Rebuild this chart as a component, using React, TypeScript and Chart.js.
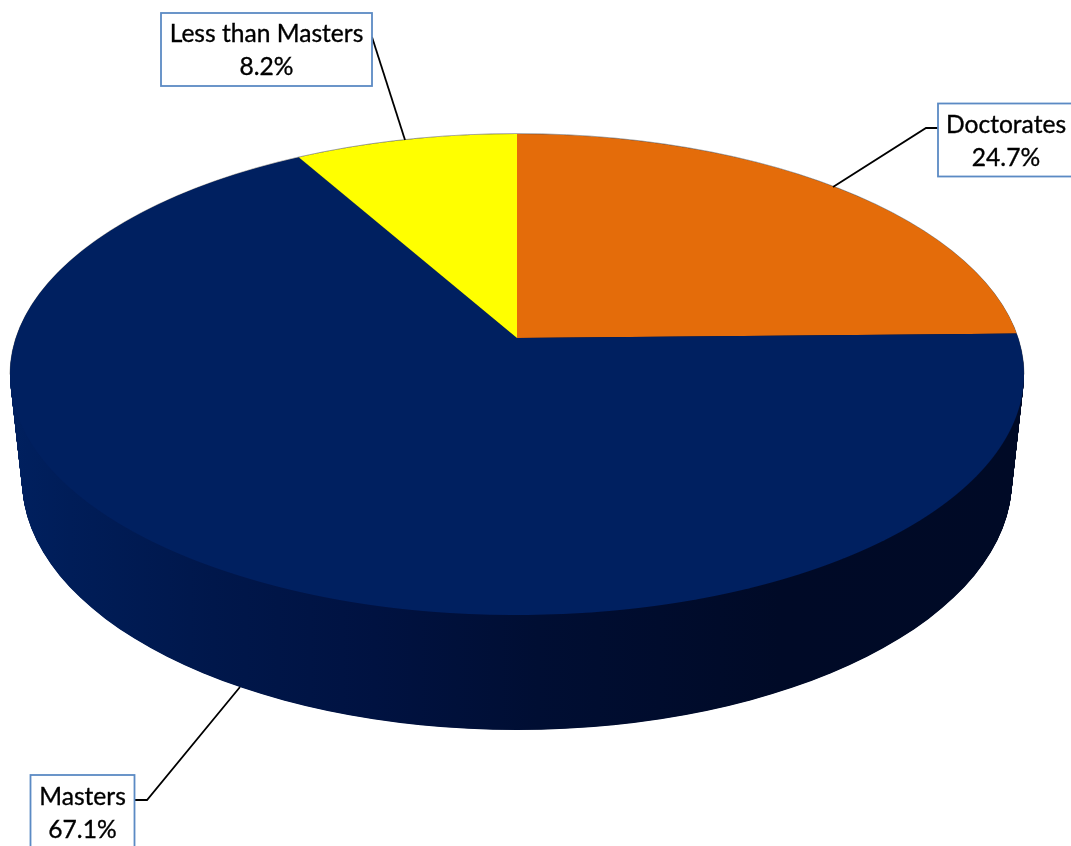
import React, { useEffect, useRef } from "react";
import { Chart, registerables } from "chart.js";

Chart.register(...registerables);

const categories = ["Doctorates", "Masters", "Less than Masters"];
const shares = [24.7, 67.1, 8.2];
const sliceColors = ["#e46c0a", "#002060", "#ffff00"];

const W = 1071;
const H = 846;

// projective tilt of the top face (disc coordinates -> screen)
const apexX = 517;
const apexY = 338;
const tiltK = -0.1518;
const tiltA = 501.1;
const tiltB = 234.96;

const topRim = { x: 517, y: 374.5, rx: 507, ry: 240.5 };
const baseRim = { x: 517, y: 480, rx: 495, ry: 250 };
const sideStops: [number, string][] = [
  [0.0, "#00205f"],
  [0.06, "#001d58"],
  [0.2, "#00174b"],
  [0.36, "#001241"],
  [0.52, "#000e33"],
  [0.76, "#000a27"],
  [1.0, "#000a26"],
];

const boxes = [
  { left: 938, top: 103.5, right: 1076, bottom: 176.5, cx: 1006, b1: 133, b2: 166, leader: [[938, 128], [926, 128], [833, 187]] },
  { left: 30.5, top: 775, right: 134.5, bottom: 860, cx: 82.5, b1: 805, b2: 838, leader: [[135, 800], [147, 800], [240, 687]] },
  { left: 161, top: 13, right: 372, bottom: 86, cx: 266.5, b1: 42, b2: 75, leader: [[372, 37], [405, 140]] },
];

const tiltPlugin = {
  id: "tilt",
  beforeDatasetDraw(chart: any) {
    const ctx: CanvasRenderingContext2D = chart.ctx;
    // extruded side
    const g = ctx.createLinearGradient(10, 0, 1024, 0);
    sideStops.forEach(([o, c]) => g.addColorStop(o, c));
    ctx.save();
    ctx.fillStyle = g;
    const steps = 220;
    for (let i = 0; i <= steps; i++) {
      const t = i / steps;
      ctx.beginPath();
      ctx.ellipse(
        baseRim.x + (topRim.x - baseRim.x) * t,
        baseRim.y + (topRim.y - baseRim.y) * t,
        baseRim.rx + (topRim.rx - baseRim.rx) * t,
        baseRim.ry + (topRim.ry - baseRim.ry) * t,
        0, 0, Math.PI * 2
      );
      ctx.fill();
    }
    // faint grey rim behind the far edge
    ctx.beginPath();
    ctx.ellipse(topRim.x, topRim.y, topRim.rx, topRim.ry + 0.4, 0, Math.PI, Math.PI * 2);
    ctx.strokeStyle = "rgba(120,120,120,0.7)";
    ctx.lineWidth = 1;
    ctx.stroke();
    ctx.restore();

    // top face: each pixel row gets its own local mapping of the library's arcs
    const arcs = chart.getDatasetMeta(0).data;
    const ax = arcs[0].x;
    const ay = arcs[0].y;
    const r = arcs[0].outerRadius;
    for (let row = 128; row < 622; row++) {
      const w = (row + 0.5 - apexY) / tiltB;
      const v = w / (1 - tiltK * w);
      const D = 1 + tiltK * v;
      const sx = tiltA / D / r;
      const sy = tiltB / (D * D) / r;
      ctx.save();
      ctx.beginPath();
      ctx.rect(0, row, W, 1);
      ctx.clip();
      ctx.transform(sx, 0, 0, sy, apexX - ax * sx, row + 0.5 - (ay + v * r) * sy);
      arcs.forEach((a: any) => a.draw(ctx));
      ctx.restore();
    }
    return false;
  },
  afterDraw(chart: any) {
    const ctx: CanvasRenderingContext2D = chart.ctx;
    ctx.save();
    boxes.forEach((b, i) => {
      ctx.beginPath();
      b.leader.forEach(([x, y], j) => (j ? ctx.lineTo(x, y) : ctx.moveTo(x, y)));
      ctx.strokeStyle = "#000000";
      ctx.lineWidth = 1.8;
      ctx.stroke();

      ctx.fillStyle = "#ffffff";
      ctx.fillRect(b.left, b.top, b.right - b.left, b.bottom - b.top);
      ctx.strokeStyle = "#5b8ac4";
      ctx.lineWidth = 1.8;
      ctx.strokeRect(b.left, b.top, b.right - b.left, b.bottom - b.top);

      ctx.fillStyle = "#000000";
      ctx.strokeStyle = "#000000";
      ctx.lineWidth = 0.35;
      ctx.font = '24.6px Lato, "Open Sans", sans-serif';
      ctx.textAlign = "center";
      ctx.textBaseline = "alphabetic";
      const pct = shares[i].toFixed(1) + "%";
      ctx.fillText(categories[i], b.cx, b.b1);
      ctx.strokeText(categories[i], b.cx, b.b1);
      ctx.fillText(pct, b.cx, b.b2);
      ctx.strokeText(pct, b.cx, b.b2);
    });
    ctx.restore();
  },
};

export default function App() {
  const ref = useRef<HTMLCanvasElement>(null);
  useEffect(() => {
    document.body.style.margin = "0";
    document.body.style.overflow = "hidden";
    const chart = new Chart(ref.current as HTMLCanvasElement, {
      type: "pie",
      data: {
        labels: categories,
        datasets: [{ data: shares, backgroundColor: sliceColors, borderWidth: 0 }],
      },
      options: {
        animation: false,
        responsive: false,
        maintainAspectRatio: false,
        devicePixelRatio: 1,
        plugins: { legend: { display: false }, tooltip: { enabled: false } },
      },
      plugins: [tiltPlugin],
    } as any);
    return () => chart.destroy();
  }, []);
  return (
    <div style={{ width: W, height: H, background: "#ffffff" }}>
      <canvas ref={ref} width={W} height={H} style={{ display: "block" }} />
    </div>
  );
}
